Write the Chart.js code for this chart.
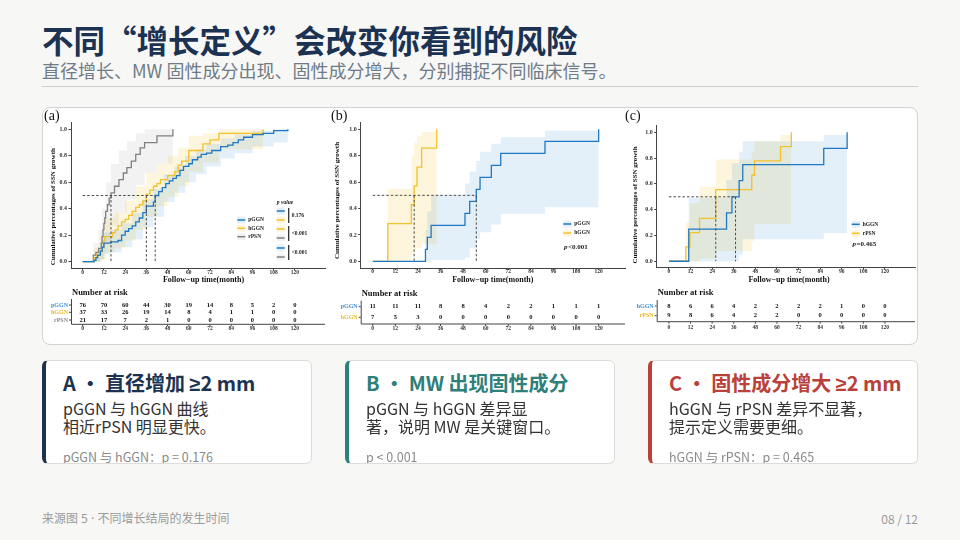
<!DOCTYPE html>
<html lang="zh-CN">
<head>
<meta charset="utf-8">
<title>增长定义与风险</title>
<script src="https://cdn.jsdelivr.net/npm/chart.js@4.4.1/dist/chart.umd.min.js"></script>
<style>
  body { margin: 0; width: 960px; height: 540px; overflow: hidden; background: #f7f7f5;
         font-family: "Noto Sans CJK SC", "Noto Sans", sans-serif; position: relative; }
  .abs { position: absolute; white-space: nowrap; }
  .lat { font-family: "Noto Sans", sans-serif; }
  #title { left: 42px; top: 20px; font-size: 31.5px; font-weight: 700; color: #1b3252; line-height: 38px; }
  #subtitle { left: 42px; top: 59px; font-size: 18px; color: #6f7b87; line-height: 22px; }
  #rule { left: 42px; top: 85.5px; width: 876px; height: 1.5px; background: #c9d0d0; }
  #figure { left: 42px; top: 107px; width: 874px; height: 236px; background: #fff;
            border: 1px solid #d3d3d3; border-radius: 8px; }
  canvas { position: absolute; top: 108px; }
  .card { position: absolute; top: 360px; width: 265px; height: 102px; background: #fff;
          border: 1px solid #dcdcdc; border-left: 4px solid; border-radius: 6px; overflow: hidden; }
  .ct { position: absolute; left: 17px; top: 10px; font-size: 20px; font-weight: 700; line-height: 24px; white-space: nowrap; }
  .cb { position: absolute; left: 17px; top: 38px; font-size: 16px; line-height: 18.4px; color: #333; white-space: nowrap; }
  .cf { position: absolute; left: 17px; top: 88px; font-size: 12.5px; line-height: 15px; color: #8a8a8a; white-space: nowrap; }
  #source { left: 42px; top: 511px; font-size: 12px; color: #9b9b9b; line-height: 15px;
            font-family: "Noto Sans", "Noto Sans CJK SC", sans-serif; }
  #page { right: 42px; top: 511px; font-size: 12px; color: #9b9b9b; line-height: 15px; }
</style>
</head>
<body>

<div id="title" class="abs">不同“增长定义”会改变你看到的风险</div>
<div id="subtitle" class="abs">直径增长、MW 固性成分出现、固性成分增大，分别捕捉不同临床信号。</div>
<div id="rule" class="abs"></div>

<div id="figure" class="abs"></div>
<canvas id="chartA" width="288" height="236" style="left:42px"></canvas>
<canvas id="chartB" width="300" height="236" style="left:326px"></canvas>
<canvas id="chartC" width="296" height="236" style="left:622px"></canvas>

<div class="card" style="left:42px; border-left-color:#1c3350">
  <div class="ct" style="color:#1c3350">A · 直径增加 <span class="lat">≥</span>2 mm</div>
  <div class="cb">pGGN 与 hGGN 曲线<br>相近rPSN 明显更快。</div>
  <div class="cf">pGGN 与 hGGN：p = 0.176</div>
</div>
<div class="card" style="left:345px; border-left-color:#2f7f7a">
  <div class="ct" style="color:#2f7f7a">B · MW 出现固性成分</div>
  <div class="cb">pGGN 与 hGGN 差异显<br>著，说明 MW 是关键窗口。</div>
  <div class="cf">p &lt; 0.001</div>
</div>
<div class="card" style="left:648px; border-left-color:#b9413a">
  <div class="ct" style="color:#b9413a">C · 固性成分增大 <span class="lat">≥</span>2 mm</div>
  <div class="cb">hGGN 与 rPSN 差异不显著，<br>提示定义需要更细。</div>
  <div class="cf">hGGN 与 rPSN：p = 0.465</div>
</div>

<div id="source" class="abs">来源图 5 · 不同增长结局的发生时间</div>
<div id="page" class="abs">08 / 12</div>

<script>
/* ---------------------------------------------
   Axis ticks shared by the three panels
   --------------------------------------------- */
var monthTicks = [0, 12, 24, 36, 48, 60, 72, 84, 96, 108, 120];
var pctTicks = [0, 0.2, 0.4, 0.6, 0.8, 1.0];

/* --- Panel (a): diameter increase >= 2 mm --- */
var aPggnT = [0, 6.5, 7.5, 8.5, 10, 11, 12, 16, 20, 22, 24, 26, 28, 30, 32, 34, 36, 40, 41, 43, 45, 47, 49, 51, 53, 55, 57, 60, 62, 65, 67, 70, 73, 78, 82, 85, 88, 91, 96, 102, 108, 116];
var aPggnY = [0, 0.01, 0.03, 0.05, 0.08, 0.11, 0.14, 0.15, 0.16, 0.2, 0.23, 0.25, 0.27, 0.3, 0.33, 0.37, 0.42, 0.45, 0.5, 0.53, 0.56, 0.59, 0.61, 0.63, 0.65, 0.69, 0.72, 0.74, 0.77, 0.79, 0.81, 0.82, 0.84, 0.87, 0.88, 0.9, 0.92, 0.94, 0.96, 0.97, 0.99, 1.0];
var aPggnBandT = [0, 6.5, 10, 12, 16, 22, 28, 34, 40, 46, 52, 58, 64, 70, 78, 86, 96, 108, 116];
var aPggnLo = [0, 0, 0.02, 0.06, 0.07, 0.11, 0.17, 0.26, 0.34, 0.45, 0.52, 0.6, 0.66, 0.72, 0.78, 0.82, 0.87, 0.9, 0.9];
var aPggnHi = [0, 0.03, 0.14, 0.22, 0.24, 0.29, 0.37, 0.47, 0.55, 0.66, 0.72, 0.8, 0.85, 0.89, 0.93, 0.96, 0.99, 1.0, 1.0];

var aHggnT = [0, 6.5, 8, 9.5, 11, 12, 12.5, 17, 18.5, 20, 22, 24, 26, 28, 30, 32, 34, 36, 38, 40, 42, 44, 48, 52, 54, 56, 60, 68, 72, 77, 102];
var aHggnY = [0, 0.03, 0.05, 0.08, 0.11, 0.16, 0.19, 0.22, 0.24, 0.27, 0.3, 0.32, 0.35, 0.38, 0.41, 0.43, 0.46, 0.51, 0.54, 0.57, 0.59, 0.62, 0.65, 0.68, 0.73, 0.76, 0.84, 0.89, 0.92, 0.97, 1.0];
var aHggnBandT = [0, 6.5, 10, 12.5, 18, 24, 30, 36, 42, 48, 54, 60, 68, 77, 102];
var aHggnLo = [0, 0, 0.01, 0.07, 0.1, 0.16, 0.24, 0.34, 0.42, 0.49, 0.57, 0.68, 0.75, 0.85, 0.9];
var aHggnHi = [0, 0.1, 0.2, 0.33, 0.37, 0.46, 0.57, 0.67, 0.74, 0.8, 0.86, 0.95, 0.97, 1.0, 1.0];

var aRpsnT = [0, 6, 7.5, 9, 10.5, 11, 11.5, 12, 12.5, 13, 14, 15, 16, 18, 20.5, 23, 25, 27.5, 30, 32.5, 35, 42, 51];
var aRpsnY = [0, 0.05, 0.07, 0.1, 0.14, 0.19, 0.24, 0.29, 0.33, 0.38, 0.43, 0.48, 0.52, 0.57, 0.62, 0.67, 0.71, 0.76, 0.81, 0.86, 0.9, 0.95, 1.0];
var aRpsnBandT = [0, 6, 9, 11, 13, 16, 20.5, 25, 30, 35, 42, 51];
var aRpsnLo = [0, 0, 0, 0.02, 0.13, 0.27, 0.37, 0.47, 0.58, 0.67, 0.74, 0.74];
var aRpsnHi = [0, 0.14, 0.24, 0.4, 0.6, 0.74, 0.84, 0.91, 0.97, 1.0, 1.0, 1.0];

var aMedians = [16, 36, 41];
var aRiskPggn = [76, 70, 60, 44, 30, 19, 14, 8, 5, 2, 0];
var aRiskHggn = [37, 33, 26, 19, 14, 8, 4, 1, 1, 0, 0];
var aRiskRpsn = [21, 17, 7, 2, 1, 0, 0, 0, 0, 0, 0];
var aPvalues = ['0.176', '<0.001', '<0.001'];

/* --- Panel (b): MW solid component appears --- */
var bPggnT = [0, 28, 29, 31, 49, 51.5, 55, 57, 63, 68, 91.5, 120];
var bPggnY = [0, 0.091, 0.182, 0.273, 0.364, 0.455, 0.545, 0.636, 0.727, 0.818, 0.909, 1.0];
var bPggnLo = [0, 0, 0, 0.01, 0.03, 0.1, 0.17, 0.22, 0.28, 0.36, 0.41, 0.41];
var bPggnHi = [0, 0.24, 0.38, 0.5, 0.59, 0.68, 0.76, 0.83, 0.89, 0.94, 0.99, 0.99];

var bHggnT = [0, 8, 20.5, 22, 23.5, 26, 34];
var bHggnY = [0, 0.286, 0.429, 0.571, 0.714, 0.857, 1.0];
var bHggnLo = [0, 0, 0.05, 0.09, 0.1, 0.13, 0.13];
var bHggnHi = [0, 0.55, 0.8, 0.9, 0.95, 0.98, 0.98];

var bMedians = [22, 55];
var bRiskPggn = [11, 11, 11, 8, 8, 4, 2, 2, 1, 1, 1];
var bRiskHggn = [7, 5, 3, 0, 0, 0, 0, 0, 0, 0, 0];

/* --- Panel (c): solid component increase >= 2 mm --- */
var cHggnT = [0, 11, 32, 35, 39, 41, 86, 99];
var cHggnY = [0, 0.25, 0.375, 0.5, 0.625, 0.75, 0.875, 1.0];
var cHggnLo = [0, 0, 0, 0, 0.05, 0.17, 0.22, 0.22];
var cHggnHi = [0, 0.49, 0.63, 0.76, 0.85, 0.93, 0.98, 0.98];

var cRpsnT = [0, 9.4, 11.7, 17, 26, 46, 47.5, 62, 68];
var cRpsnY = [0, 0.111, 0.222, 0.333, 0.556, 0.667, 0.778, 0.889, 1.0];
var cRpsnLo = [0, 0, 0, 0.02, 0.08, 0.16, 0.29, 0.29, 0.29];
var cRpsnHi = [0, 0.3, 0.45, 0.58, 0.79, 0.85, 0.93, 0.98, 0.98];

var cMedians = [26, 37];
var cRiskHggn = [8, 6, 6, 4, 2, 2, 2, 2, 1, 0, 0];
var cRiskRpsn = [9, 8, 6, 4, 2, 2, 0, 0, 0, 0, 0];

/* ---------------------------------------------
   Styles
   --------------------------------------------- */
var serif = '"Liberation Serif", "DejaVu Serif", serif';
var BLUE = { line: '#1f78c3', band: 'rgba(40,130,205,0.13)', label: '#3b8fd3' };
var GOLD = { line: '#f2c12b', band: 'rgba(245,200,50,0.17)', label: '#e9b824' };
var GREY = { line: '#808080', band: 'rgba(130,130,130,0.10)', label: '#8a8a8a' };

function pts(t, y) {
  return t.map(function (v, i) { return { x: v, y: y[i] }; });
}

function drawKey(ctx, x, y, col) {
  ctx.fillStyle = col.band;
  ctx.fillRect(x, y - 3.5, 8, 7);
  ctx.strokeStyle = col.line;
  ctx.lineWidth = 1.5;
  ctx.beginPath(); ctx.moveTo(x, y); ctx.lineTo(x + 8, y); ctx.stroke();
}

/* Text, legends and the number-at-risk table; the table
   columns follow the chart's own x scale. */
function decorPlugin(d) {
  return {
    id: 'decor',
    afterDraw: function (chart) {
      var ctx = chart.ctx, xs = chart.scales.x, area = chart.chartArea;
      ctx.save();
      ctx.textBaseline = 'middle';
      ctx.fillStyle = '#111';

      ctx.font = '14px ' + serif;
      ctx.textAlign = 'left';
      ctx.fillText(d.letter, d.letterX, 8);

      ctx.font = 'bold 7px ' + serif;
      ctx.textAlign = 'center';
      ctx.save();
      ctx.translate(d.yTitle[0], d.yTitle[1]);
      ctx.rotate(-Math.PI / 2);
      ctx.fillText('Cumulative percentages of SSN growth', 0, 0);
      ctx.restore();
      ctx.font = 'bold 8px ' + serif;
      ctx.fillText('Follow\u2212up time(month)', d.xTitle[0], d.xTitle[1]);

      // in-plot legend
      d.legend.forEach(function (k) {
        drawKey(ctx, d.legendX, k.y, k.col);
        ctx.fillStyle = '#222';
        ctx.font = 'bold 5.5px ' + serif;
        ctx.textAlign = 'left';
        ctx.fillText(k.name, d.legendX + 11, k.y);
      });

      // p value block
      if (d.pTitle) {
        ctx.fillStyle = '#222';
        ctx.font = 'italic bold 5.5px ' + serif;
        ctx.textAlign = 'center';
        ctx.fillText('p value', d.pTitle[0], d.pTitle[1]);
        d.pGroups.forEach(function (g) {
          drawKey(ctx, d.pKeyX, g.y1, g.c1);
          drawKey(ctx, d.pKeyX, g.y2, g.c2);
          ctx.strokeStyle = '#222';
          ctx.lineWidth = 1.2;
          ctx.beginPath(); ctx.moveTo(d.pKeyX + 12, g.y1 - 3); ctx.lineTo(d.pKeyX + 12, g.y2 + 3); ctx.stroke();
          ctx.fillStyle = '#222';
          ctx.font = 'bold 5.5px ' + serif;
          ctx.textAlign = 'left';
          ctx.fillText(g.text, d.pKeyX + 15, (g.y1 + g.y2) / 2);
        });
      }
      if (d.pText) {
        ctx.fillStyle = '#222';
        ctx.textAlign = 'left';
        ctx.font = 'italic bold 7px ' + serif;
        ctx.fillText('p', d.pText[0], d.pText[1]);
        ctx.font = 'bold 7px ' + serif;
        ctx.fillText(d.pText[2], d.pText[0] + 4, d.pText[1]);
      }

      // number at risk table
      var r = d.risk;
      ctx.fillStyle = '#111';
      ctx.font = 'bold 8.5px ' + serif;
      ctx.textAlign = 'left';
      ctx.fillText('Number at risk', area.left + 1, r.titleY);

      ctx.strokeStyle = '#444';
      ctx.lineWidth = 1;
      ctx.beginPath();
      ctx.moveTo(area.left + 0.5, r.rows[0].y - 6);
      ctx.lineTo(area.left + 0.5, r.axisY);
      ctx.lineTo(area.right, r.axisY);
      ctx.stroke();

      r.rows.forEach(function (row) {
        ctx.beginPath(); ctx.moveTo(area.left - 2, row.y); ctx.lineTo(area.left, row.y); ctx.stroke();
        ctx.font = 'bold 6px ' + serif;
        ctx.textAlign = 'right';
        ctx.fillStyle = row.col.label;
        ctx.fillText(row.name, area.left - 3, row.y);
        ctx.font = 'bold 6.5px ' + serif;
        ctx.textAlign = 'center';
        ctx.fillStyle = '#111';
        row.values.forEach(function (v, i) {
          ctx.fillText(String(v), xs.getPixelForValue(monthTicks[i]), row.y);
        });
      });

      ctx.font = 'bold 5.5px ' + serif;
      ctx.fillStyle = '#333';
      monthTicks.forEach(function (m) {
        var px = xs.getPixelForValue(m);
        ctx.beginPath(); ctx.moveTo(px, r.axisY); ctx.lineTo(px, r.axisY + 2); ctx.stroke();
        ctx.fillText(String(m), px, r.labelY);
      });
      ctx.restore();
    }
  };
}

function buildPanel(id, g, series, medians, decor) {
  var datasets = [];
  series.forEach(function (s) {
    datasets.push({ data: pts(s.bandT, s.hi), stepped: true, borderWidth: 0, borderColor: 'rgba(0,0,0,0)',
                    pointRadius: 0, fill: false, order: 3 });
    datasets.push({ data: pts(s.bandT, s.lo), stepped: true, borderWidth: 0, borderColor: 'rgba(0,0,0,0)',
                    pointRadius: 0, fill: '-1', backgroundColor: s.col.band, order: 3 });
  });
  series.forEach(function (s) {
    datasets.push({ data: pts(s.t, s.y), stepped: true, borderColor: s.col.line, borderWidth: 1.3,
                    pointRadius: 0, fill: false, order: 2 });
  });
  var far = Math.max.apply(null, medians);
  var dash = function (data) {
    return { data: data, borderColor: '#4a4a4a', borderWidth: 1, borderDash: [2.5, 2],
             pointRadius: 0, fill: false, order: 1 };
  };
  datasets.push(dash([{ x: 0, y: 0.5 }, { x: far, y: 0.5 }]));
  medians.forEach(function (m) { datasets.push(dash([{ x: m, y: 0.5 }, { x: m, y: 0 }])); });

  var tickFont = { family: serif, size: 5.5, weight: 'bold' };
  var xh = 12;

  new Chart(document.getElementById(id), {
    type: 'line',
    data: { datasets: datasets },
    options: {
      responsive: false,
      animation: false,
      devicePixelRatio: 1,
      layout: { padding: { left: 0, top: g.top, right: g.w - g.right, bottom: g.h - g.bottom - xh } },
      plugins: { legend: { display: false }, tooltip: { enabled: false } },
      scales: {
        x: {
          type: 'linear', min: g.xmin, max: g.xmax,
          afterFit: function (s) { s.height = xh; },
          afterBuildTicks: function (s) { s.ticks = monthTicks.map(function (v) { return { value: v }; }); },
          ticks: { font: tickFont, color: '#333', padding: -1.5, autoSkip: false, maxRotation: 0,
                   callback: function (v) { return String(v); } },
          grid: { drawOnChartArea: false, tickLength: 2, color: '#444' },
          border: { display: true, color: '#444', width: 1 }
        },
        y: {
          type: 'linear', min: -0.05, max: 1.05,
          afterFit: function (s) { s.width = g.left; },
          afterBuildTicks: function (s) { s.ticks = pctTicks.map(function (v) { return { value: v }; }); },
          ticks: { font: { family: serif, size: 6, weight: 'bold' }, color: '#333', padding: 1.5,
                   callback: function (v) { return v.toFixed(1); } },
          grid: { drawOnChartArea: false, tickLength: 2.5, color: '#444' },
          border: { display: true, color: '#444', width: 1 }
        }
      }
    },
    plugins: [decorPlugin(decor)]
  });
}

/* --- Panel (a) --- */
buildPanel('chartA',
  { w: 288, h: 236, left: 29, top: 14.7, right: 283, bottom: 160.3, xmin: -6.6, xmax: 137 },
  [
    { t: aPggnT, y: aPggnY, bandT: aPggnBandT, lo: aPggnLo, hi: aPggnHi, col: BLUE },
    { t: aHggnT, y: aHggnY, bandT: aHggnBandT, lo: aHggnLo, hi: aHggnHi, col: GOLD },
    { t: aRpsnT, y: aRpsnY, bandT: aRpsnBandT, lo: aRpsnLo, hi: aRpsnHi, col: GREY }
  ],
  aMedians,
  {
    letter: '(a)', letterX: 2, yTitle: [10.7, 98.7], xTitle: [161.5, 172],
    legendX: 195.3,
    legend: [ { name: 'pGGN', y: 112, col: BLUE }, { name: 'hGGN', y: 120.3, col: GOLD }, { name: 'rPSN', y: 128.7, col: GREY } ],
    pTitle: [243, 94.7], pKeyX: 234.7,
    pGroups: [
      { y1: 103, y2: 112, c1: BLUE, c2: GOLD, text: aPvalues[0] },
      { y1: 121, y2: 130, c1: GOLD, c2: GREY, text: aPvalues[1] },
      { y1: 140, y2: 149, c1: BLUE, c2: GREY, text: aPvalues[2] }
    ],
    risk: { titleY: 185, axisY: 216.3, labelY: 221,
            rows: [ { name: 'pGGN', y: 197, col: BLUE, values: aRiskPggn },
                    { name: 'hGGN', y: 204.3, col: GOLD, values: aRiskHggn },
                    { name: 'rPSN', y: 212, col: GREY, values: aRiskRpsn } ] }
  });

/* --- Panel (b) --- */
buildPanel('chartB',
  { w: 300, h: 236, left: 34.7, top: 14.7, right: 299, bottom: 160, xmin: -6.4, xmax: 134 },
  [
    { t: bPggnT, y: bPggnY, bandT: bPggnT, lo: bPggnLo, hi: bPggnHi, col: BLUE },
    { t: bHggnT, y: bHggnY, bandT: bHggnT, lo: bHggnLo, hi: bHggnHi, col: GOLD }
  ],
  bMedians,
  {
    letter: '(b)', letterX: 5, yTitle: [10.7, 92.5], xTitle: [166.8, 172],
    legendX: 237.3,
    legend: [ { name: 'pGGN', y: 116, col: BLUE }, { name: 'hGGN', y: 125, col: GOLD } ],
    pText: [238, 139.5, '<0.001'],
    risk: { titleY: 185.3, axisY: 216, labelY: 221,
            rows: [ { name: 'pGGN', y: 198.7, col: BLUE, values: bRiskPggn },
                    { name: 'hGGN', y: 209.3, col: GOLD, values: bRiskHggn } ] }
  });

/* --- Panel (c) --- */
buildPanel('chartC',
  { w: 296, h: 236, left: 34.7, top: 17.9, right: 293, bottom: 159.7, xmin: -6.8, xmax: 136.7 },
  [
    { t: cHggnT, y: cHggnY, bandT: cHggnT, lo: cHggnLo, hi: cHggnHi, col: BLUE },
    { t: cRpsnT, y: cRpsnY, bandT: cRpsnT, lo: cRpsnLo, hi: cRpsnHi, col: GOLD }
  ],
  cMedians,
  {
    letter: '(c)', letterX: 3, yTitle: [13, 97], xTitle: [167, 171.5],
    legendX: 229.7,
    legend: [ { name: 'hGGN', y: 116.3, col: BLUE }, { name: 'rPSN', y: 125.3, col: GOLD } ],
    pText: [230.5, 136, '=0.465'],
    risk: { titleY: 184.3, axisY: 213.7, labelY: 219.7,
            rows: [ { name: 'hGGN', y: 198, col: BLUE, values: cRiskHggn },
                    { name: 'rPSN', y: 207.7, col: GOLD, values: cRiskRpsn } ] }
  });
</script>
</body>
</html>
